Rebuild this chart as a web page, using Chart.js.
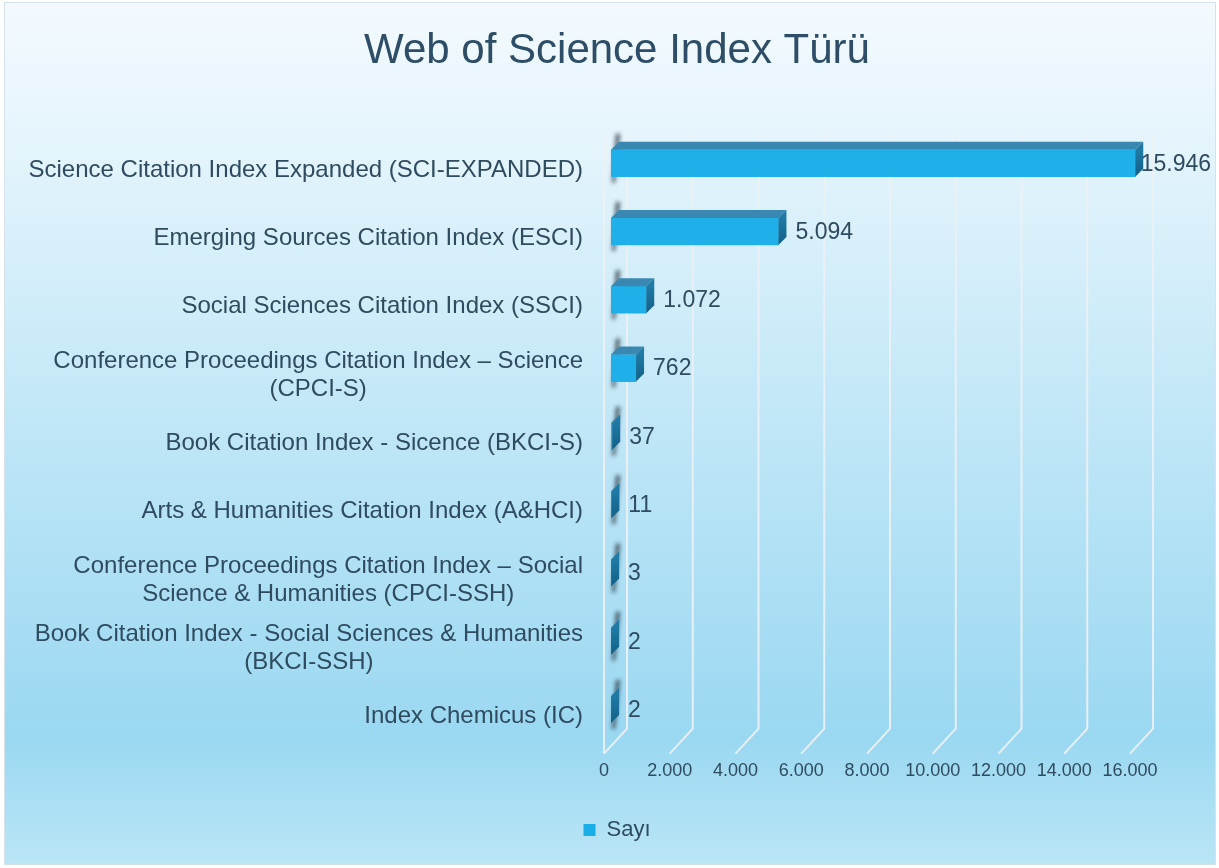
<!DOCTYPE html>
<html>
<head>
<meta charset="utf-8">
<script src="https://cdn.jsdelivr.net/npm/chart.js@4/dist/chart.umd.min.js"></script>
<style>
  html, body { margin: 0; padding: 0; background: #ffffff; }
  #wrap { width: 1219px; height: 868px; position: relative; }
</style>
</head>
<body>
<div id="wrap"><canvas id="c" width="1219" height="868"></canvas></div>
<script>
const chartTitle = 'Web of Science Index Türü';
const seriesName = 'Sayı';
const categories = [
  ['Science Citation Index Expanded (SCI-EXPANDED)'],
  ['Emerging Sources Citation Index (ESCI)'],
  ['Social Sciences Citation Index (SSCI)'],
  ['Conference Proceedings Citation Index – Science', '(CPCI-S)'],
  ['Book Citation Index - Sicence (BKCI-S)'],
  ['Arts & Humanities Citation Index (A&HCI)'],
  ['Conference Proceedings Citation Index – Social', 'Science & Humanities (CPCI-SSH)'],
  ['Book Citation Index - Social Sciences & Humanities', '(BKCI-SSH)'],
  ['Index Chemicus (IC)']
];
const values = [15946, 5094, 1072, 762, 37, 11, 3, 2, 2];
const tickValues = [0, 2000, 4000, 6000, 8000, 10000, 12000, 14000, 16000];

const TEXT = '#2f4b5f';
const FONT = '"Liberation Sans", Arial, sans-serif';
const DX = 8, DY = -8;          // bar depth
const WX = 16;                  // back wall offset relative to bar plane (x)
const fmt = v => v.toLocaleString('de-DE');

const bgPlugin = {
  id: 'bg',
  beforeDraw(chart) {
    const { ctx, width, height } = chart;
    ctx.save();
    const g = ctx.createLinearGradient(0, 0, 0, height);
    g.addColorStop(0, '#f3fafe');
    g.addColorStop(0.15, '#e6f5fc');
    g.addColorStop(0.5, '#bfe6f7');
    g.addColorStop(0.85, '#9ad8f1');
    g.addColorStop(1, '#bbe6f6');
    ctx.fillStyle = g;
    ctx.fillRect(4, 2, width - 7, height - 5);
    ctx.strokeStyle = '#d6e2ea';
    ctx.lineWidth = 1;
    ctx.strokeRect(4.5, 2.5, width - 8, height - 6);
    ctx.restore();
  }
};

const wallPlugin = {
  id: 'wall',
  beforeDatasetsDraw(chart) {
    const { ctx, chartArea } = chart;
    const xs = chart.scales.x;
    const top = chartArea.top + 4;
    const backBottom = chartArea.bottom - 15;
    const frontBottom = chartArea.bottom + 10;
    ctx.save();
    ctx.strokeStyle = 'rgba(235,240,244,0.95)';
    ctx.lineWidth = 2;
    tickValues.forEach(v => {
      const x = xs.getPixelForValue(v);
      ctx.beginPath();
      ctx.moveTo(x + WX, top);
      ctx.lineTo(x + WX, backBottom);
      ctx.lineTo(x - 7, frontBottom);
      ctx.stroke();
    });
    // left wall front edge
    const x0 = xs.getPixelForValue(0) - 7;
    ctx.beginPath();
    ctx.moveTo(x0, top + 2);
    ctx.lineTo(x0, frontBottom);
    ctx.stroke();
    // shadows of the bar posts
    const meta = chart.getDatasetMeta(0);
    ctx.filter = 'blur(2px)';
    ctx.fillStyle = 'rgba(20,30,40,0.75)';
    meta.data.forEach(bar => {
      const h = bar.height;
      const b = bar.base;
      ctx.beginPath();
      ctx.moveTo(b + 5, bar.y - h / 2 - 16);
      ctx.lineTo(b + 9, bar.y - h / 2 - 16);
      ctx.lineTo(b + 4, bar.y + h / 2 + 6);
      ctx.lineTo(b + 1, bar.y + h / 2 + 6);
      ctx.closePath();
      ctx.fill();
    });
    ctx.restore();
  },
  afterDatasetsDraw(chart) {
    const { ctx, width } = chart;
    const meta = chart.getDatasetMeta(0);
    ctx.save();
    meta.data.forEach((bar, i) => {
      const h = bar.height;
      const t = bar.y - h / 2, b = bar.y + h / 2;
      const x0 = bar.base, x1 = bar.x;
      // top face
      ctx.fillStyle = '#3a88b2';
      ctx.beginPath();
      ctx.moveTo(x0, t); ctx.lineTo(x1, t); ctx.lineTo(x1 + DX, t + DY); ctx.lineTo(x0 + DX, t + DY);
      ctx.closePath(); ctx.fill();
      // side face
      const sg = ctx.createLinearGradient(0, t, 0, b);
      sg.addColorStop(0, '#1f7aa5');
      sg.addColorStop(1, '#125f85');
      ctx.fillStyle = sg;
      ctx.beginPath();
      ctx.moveTo(x1, t); ctx.lineTo(x1 + DX, t + DY); ctx.lineTo(x1 + DX, b + DY); ctx.lineTo(x1, b);
      ctx.closePath(); ctx.fill();
      // value label
      ctx.font = '23px ' + FONT;
      ctx.fillStyle = TEXT;
      ctx.textBaseline = 'middle';
      ctx.textAlign = 'left';
      const txt = fmt(values[i]);
      const w = ctx.measureText(txt).width;
      const lx = Math.min(x1 + 17, width - w - 8);
      ctx.fillText(txt, lx, bar.y + 1);
    });
    ctx.restore();
  },
  afterDraw(chart) {
    // category labels, multi-line centred block, right-aligned to the axis
    const { ctx } = chart;
    const ys = chart.scales.y;
    ctx.save();
    ctx.font = '24px ' + FONT;
    ctx.fillStyle = TEXT;
    ctx.textBaseline = 'middle';
    ctx.textAlign = 'center';
    const right = 583, lh = 28;
    categories.forEach((lines, i) => {
      const y = ys.getPixelForTick(i) + 7;
      const maxW = Math.max(...lines.map(l => ctx.measureText(l).width));
      const cx = right - maxW / 2;
      const y0 = y - (lines.length - 1) * lh / 2;
      lines.forEach((l, k) => ctx.fillText(l, cx, y0 + k * lh));
    });
    ctx.restore();
  }
};

const ctx = document.getElementById('c').getContext('2d');
new Chart(ctx, {
  type: 'bar',
  data: {
    labels: categories,
    datasets: [{
      label: seriesName,
      data: values,
      backgroundColor: (c) => {
        const ch = c.chart;
        if (c.type !== 'data' || !ch.chartArea) return '#1fb0ea';
        const el = ch.getDatasetMeta(0).data[c.dataIndex];
        if (!el || el.y === undefined || isNaN(el.y)) return '#1fb0ea';
        const g = ch.ctx.createLinearGradient(0, el.y - 14, 0, el.y + 14);
        g.addColorStop(0, '#40bff1');
        g.addColorStop(1, '#07a1de');
        return g;
      },
      borderWidth: 0,
      barThickness: 27
    }]
  },
  options: {
    indexAxis: 'y',
    responsive: false,
    animation: false,
    layout: { padding: { left: 19, right: 4, top: 4, bottom: 17 } },
    scales: {
      x: {
        min: 0, max: 16000,
        afterBuildTicks: (s) => { s.ticks = tickValues.map(v => ({ value: v })); },
        grid: { display: false },
        border: { display: false },
        ticks: {
          callback: (v) => fmt(v),
          color: TEXT,
          font: { family: FONT, size: 18 },
          padding: 9,
          labelOffset: -7,
          maxRotation: 0,
          autoSkip: false
        },
        afterFit: (s) => { s.height = 65.4; }
      },
      y: {
        grid: { display: false },
        border: { display: false },
        ticks: { display: false },
        afterFit: (s) => { s.width = 592; }
      },
      y2: {
        position: 'right',
        type: 'category',
        labels: [''],
        grid: { display: false },
        border: { display: false },
        ticks: { display: false },
        afterFit: (s) => { s.width = 78; }
      }
    },
    plugins: {
      title: {
        display: true,
        text: chartTitle,
        color: '#2d4e66',
        font: { family: FONT, size: 42, weight: 'normal' },
        padding: { top: 22, bottom: 52.7 }
      },
      legend: {
        position: 'bottom',
        labels: {
          color: TEXT,
          font: { family: FONT, size: 22 },
          boxWidth: 12,
          boxHeight: 12,
          padding: 10,
          generateLabels: (chart) => [{
            text: seriesName, fillStyle: '#1aaee9', strokeStyle: '#1aaee9', lineWidth: 0,
            fontColor: TEXT, datasetIndex: 0
          }]
        }
      },
      tooltip: { enabled: false }
    }
  },
  plugins: [bgPlugin, wallPlugin]
});
</script>
</body>
</html>
